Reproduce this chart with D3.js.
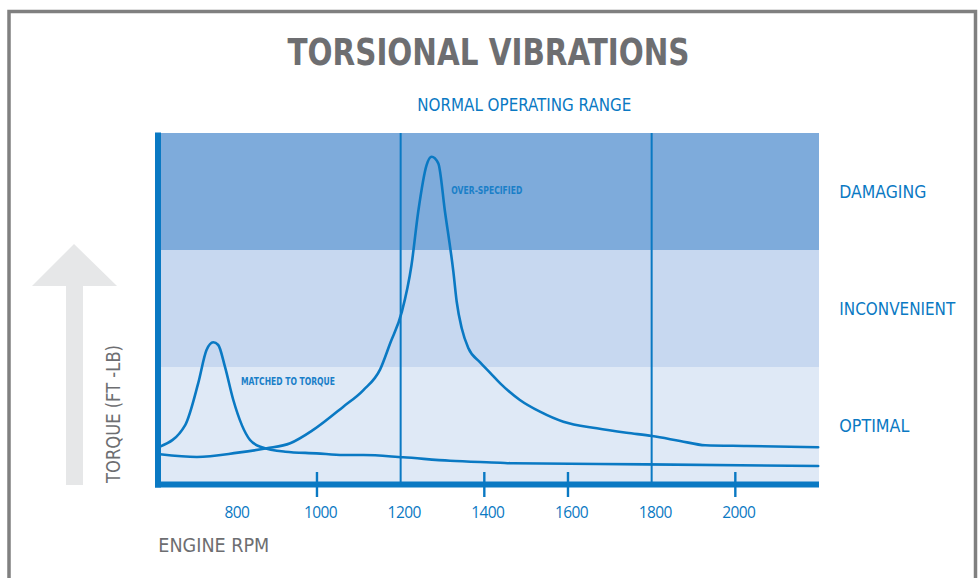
<!DOCTYPE html>
<html>
<head>
<meta charset="utf-8">
<script src="https://cdn.jsdelivr.net/npm/d3@7/dist/d3.min.js"></script>
<style>
  html, body { margin: 0; padding: 0; background: #fff; }
  svg { display: block; }
</style>
</head>
<body>
<svg id="chart" width="979" height="578"></svg>
<script>
// ---------- DATA ----------
const xTicks = [800, 1000, 1200, 1400, 1600, 1800, 2000];
const tickMarks = [1000, 1400, 1600, 2000];
const rangeLines = [1200, 1800];

const bandNames = ["OPTIMAL", "INCONVENIENT", "DAMAGING"];
const bandLimits = [0, 10, 20, 30];
const bandColors = ["#dfe9f6", "#c7d8f0", "#7eabdb"];

// Curve "MATCHED TO TORQUE"
const rpmA    = [625, 685, 716, 736, 752, 764, 780, 800, 840, 868, 924, 999, 1063, 1111, 1206, 1318, 1438, 1469, 1788, 2198];
const torqueA = [3.19, 5.04, 8.6, 11.45, 12.11, 11.88, 10.03, 7.18, 3.76, 3.14, 2.76, 2.62, 2.48, 2.48, 2.28, 1.99, 1.82, 1.77, 1.68, 1.54];

// Curve "OVER-SPECIFIED"
const rpmB    = [625, 713, 811, 880, 936, 991, 1063, 1111, 1151, 1175, 1203, 1226, 1242, 1262, 1274, 1290, 1306, 1326, 1334, 1346, 1362, 1390, 1414, 1438, 1485, 1533, 1589, 1669, 1740, 1801, 1868, 1928, 2027, 2198];
const torqueB = [2.54, 2.31, 2.68, 3.05, 3.48, 4.62, 6.61, 8.03, 9.8, 12.03, 14.73, 18.72, 23.27, 27.26, 27.97, 27.41, 23.27, 18.15, 15.58, 13.31, 11.6, 10.4, 9.5, 8.6, 7.18, 6.18, 5.32, 4.76, 4.38, 4.10, 3.68, 3.31, 3.25, 3.14];

// ---------- DRAW ----------
const svg = d3.select("#chart");
const BLUE = "#0a79c3";
const GRAY = "#6d6e71";
const CONDENSED = "'Liberation Sans Narrow', 'DejaVu Sans Condensed', 'Roboto', sans-serif";

const x = d3.scaleLinear().domain([620, 2200]).range([158, 819]);
const y = d3.scaleLinear().domain([0, 30]).range([484, 133]);

// frame
svg.append("path")
  .attr("d", "M9,590 L9,11.5 L975.5,11.5 L975.5,590")
  .attr("fill", "none").attr("stroke", "#808080").attr("stroke-width", 3.5);

// title
svg.append("text").text("TORSIONAL VIBRATIONS")
  .attr("x", 287.5).attr("y", 64.5)
  .attr("font-family", CONDENSED).attr("font-weight", "bold").attr("font-size", 37)
  .attr("fill", GRAY)
  .attr("textLength", 402).attr("lengthAdjust", "spacingAndGlyphs");

svg.append("text").text("NORMAL OPERATING RANGE")
  .attr("x", 417.3).attr("y", 110.8)
  .attr("font-family", CONDENSED).attr("font-size", 17)
  .attr("fill", BLUE)
  .attr("textLength", 214).attr("lengthAdjust", "spacingAndGlyphs");

// bands
const bands = bandNames.map((n, i) => ({ name: n, lo: bandLimits[i], hi: bandLimits[i + 1], color: bandColors[i] }));
svg.append("g").selectAll("rect").data(bands).join("rect")
  .attr("x", x(620)).attr("width", x(2200) - x(620))
  .attr("y", d => y(d.hi)).attr("height", d => y(d.lo) - y(d.hi))
  .attr("fill", d => d.color);

// band labels
const bandLabelWidth = { "OPTIMAL": 70, "INCONVENIENT": 116, "DAMAGING": 87 };
svg.append("g").selectAll("text").data(bands).join("text")
  .text(d => d.name)
  .attr("x", 839.3)
  .attr("y", d => (y(d.lo) + y(d.hi)) / 2 + 6.3)
  .attr("font-family", CONDENSED).attr("font-size", 17.5)
  .attr("fill", BLUE)
  .attr("textLength", d => bandLabelWidth[d.name]).attr("lengthAdjust", "spacingAndGlyphs");

// normal operating range lines
svg.append("g").selectAll("line").data(rangeLines).join("line")
  .attr("x1", d => x(d)).attr("x2", d => x(d))
  .attr("y1", y(30)).attr("y2", y(0))
  .attr("stroke", BLUE).attr("stroke-width", 2);

// curves
const line = d3.line().x(d => x(d[0])).y(d => y(d[1])).curve(d3.curveMonotoneX);
const seriesA = rpmA.map((r, i) => [r, torqueA[i]]);
const seriesB = rpmB.map((r, i) => [r, torqueB[i]]);
[seriesA, seriesB].forEach(s => {
  svg.append("path").datum(s)
    .attr("d", line)
    .attr("fill", "none").attr("stroke", BLUE).attr("stroke-width", 2.6)
    .attr("stroke-linejoin", "round").attr("stroke-linecap", "round");
});

// curve labels
svg.append("text").text("OVER-SPECIFIED")
  .attr("x", 451.3).attr("y", 194)
  .attr("font-family", CONDENSED).attr("font-weight", "bold").attr("font-size", 10)
  .attr("fill", "#1a7fc8")
  .attr("textLength", 71).attr("lengthAdjust", "spacingAndGlyphs");
svg.append("text").text("MATCHED TO TORQUE")
  .attr("x", 241).attr("y", 385.2)
  .attr("font-family", CONDENSED).attr("font-weight", "bold").attr("font-size", 10)
  .attr("fill", "#1a7fc8")
  .attr("textLength", 94).attr("lengthAdjust", "spacingAndGlyphs");

// axes lines
svg.append("line")
  .attr("x1", 155).attr("x2", 819).attr("y1", 484.5).attr("y2", 484.5)
  .attr("stroke", BLUE).attr("stroke-width", 5.8);
svg.append("line")
  .attr("x1", 158).attr("x2", 158).attr("y1", 132.5).attr("y2", 487.4)
  .attr("stroke", BLUE).attr("stroke-width", 6);

// tick marks
svg.append("g").selectAll("line").data(tickMarks).join("line")
  .attr("x1", d => x(d)).attr("x2", d => x(d))
  .attr("y1", 472).attr("y2", 497)
  .attr("stroke", BLUE).attr("stroke-width", 2.4);

// tick labels via d3 axis
const axis = d3.axisBottom(x).tickValues(xTicks).tickSize(0).tickPadding(0).tickFormat(d3.format("d"));
const gx = svg.append("g").attr("transform", "translate(3,506)").call(axis);
gx.select(".domain").remove();
gx.selectAll("text")
  .attr("font-family", "'Open Sans', 'Noto Sans', sans-serif")
  .attr("font-size", 15.5).attr("fill", BLUE).attr("dy", "0.75em")
  .attr("letter-spacing", -0.6);

// axis titles
svg.append("text").text("ENGINE RPM")
  .attr("x", 158.3).attr("y", 551.8)
  .attr("font-family", CONDENSED).attr("font-size", 19.5)
  .attr("fill", GRAY)
  .attr("textLength", 111).attr("lengthAdjust", "spacingAndGlyphs");

// arrow
svg.append("path")
  .attr("d", "M74,244 L117,286 L83,286 L83,485 L66,485 L66,286 L32,286 Z")
  .attr("fill", "#e6e7e8");

svg.append("text").text("TORQUE (FT -LB)")
  .attr("transform", "translate(120,483) rotate(-90)")
  .attr("x", 0).attr("y", 0)
  .attr("font-family", CONDENSED).attr("font-size", 19)
  .attr("fill", GRAY)
  .attr("textLength", 138).attr("lengthAdjust", "spacingAndGlyphs");
</script>
</body>
</html>
